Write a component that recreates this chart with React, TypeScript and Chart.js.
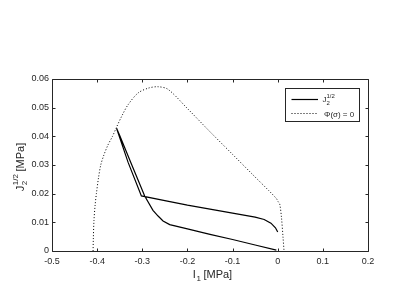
import React, { useEffect, useRef } from "react";
import { Chart, registerables } from "chart.js";

Chart.register(...registerables);

// Yield surface Φ(σ) = 0 (dotted)
const phiI = [-0.409, -0.4085, -0.407, -0.4045, -0.4016, -0.397, -0.392, -0.385, -0.376, -0.366, -0.357, -0.345, -0.3316, -0.3095, -0.287, -0.2652, -0.243, -0.2, -0.15, -0.1, -0.05, -0.02, -0.003, 0.001, 0.0044, 0.0082, 0.0117, 0.014];
const phiJ = [0, 0.004, 0.0107, 0.016, 0.0201, 0.0255, 0.03, 0.0335, 0.037, 0.04, 0.0432, 0.0472, 0.051, 0.0551, 0.0568, 0.0573, 0.0564, 0.0497, 0.0416, 0.0337, 0.0258, 0.0211, 0.0183, 0.0172, 0.0164, 0.0119, 0.0049, 0];

// Stress path J2^(1/2) (solid)
const pathI = [-0.003, -0.05, -0.1, -0.15, -0.2, -0.2393, -0.254, -0.265, -0.2763, -0.2947, -0.3264, -0.35, -0.357, -0.3316, -0.302, -0.25, -0.2, -0.15, -0.1, -0.05, -0.03, -0.015, -0.005, 0];
const pathJ = [0.0003, 0.0021, 0.004, 0.0058, 0.0077, 0.0092, 0.0105, 0.0122, 0.0142, 0.0192, 0.0312, 0.0403, 0.0428, 0.031, 0.0192, 0.0176, 0.016, 0.0146, 0.0132, 0.0118, 0.011, 0.0097, 0.0081, 0.0066];

const xTicks = [-0.5, -0.4, -0.3, -0.2, -0.1, 0, 0.1, 0.2];
const yTicks = [0, 0.01, 0.02, 0.03, 0.04, 0.05, 0.06];

const AXIS = "#262626";
const FONT = "'Liberation Sans', Arial, sans-serif";

const fmt = (v: number) => String(Number(v.toFixed(3)));

const decor = {
  id: "decor",
  afterDraw(chart: any) {
    const ctx = chart.ctx as CanvasRenderingContext2D;
    const { left, right, top, bottom } = chart.chartArea;
    const xs = chart.scales.x;
    const ys = chart.scales.y;
    ctx.save();
    ctx.strokeStyle = AXIS;
    ctx.lineWidth = 1;
    const L = Math.round(left) + 0.5;
    const R = Math.round(right) + 0.5;
    const T = Math.round(top) + 0.5;
    const B = Math.round(bottom) + 0.5;
    ctx.beginPath();
    ctx.rect(L, T, R - L, B - T);
    const tl = 3;
    xTicks.forEach((v) => {
      const p = Math.round(xs.getPixelForValue(v)) + 0.5;
      ctx.moveTo(p, B);
      ctx.lineTo(p, B - tl);
      ctx.moveTo(p, T);
      ctx.lineTo(p, T + tl);
    });
    yTicks.forEach((v) => {
      const p = Math.round(ys.getPixelForValue(v)) + 0.5;
      ctx.moveTo(L, p);
      ctx.lineTo(L + tl, p);
      ctx.moveTo(R, p);
      ctx.lineTo(R - tl, p);
    });
    ctx.stroke();

    // x title: I1 [MPa]
    ctx.fillStyle = AXIS;
    ctx.textBaseline = "alphabetic";
    ctx.textAlign = "left";
    const cx = 212.5;
    const by = 278;
    ctx.font = `11px ${FONT}`;
    const wI = ctx.measureText("I").width;
    ctx.font = `8px ${FONT}`;
    const w1 = ctx.measureText("1").width;
    ctx.font = `11px ${FONT}`;
    const wRest = ctx.measureText(" [MPa]").width;
    const x0 = cx - (wI + w1 + wRest) / 2;
    ctx.fillText("I", x0, by);
    ctx.font = `8px ${FONT}`;
    ctx.fillText("1", x0 + wI + 0.5, by + 3);
    ctx.font = `11px ${FONT}`;
    ctx.fillText(" [MPa]", x0 + wI + w1, by);

    // y title: J2^(1/2) [MPa], rotated
    ctx.save();
    const cy = 167;
    ctx.translate(24, cy);
    ctx.rotate(-Math.PI / 2);
    ctx.font = `11px ${FONT}`;
    const wJ = ctx.measureText("J").width;
    ctx.font = `8px ${FONT}`;
    const wSup = ctx.measureText("1/2").width;
    ctx.font = `11px ${FONT}`;
    const wM = ctx.measureText(" [MPa]").width;
    const tot = wJ + wSup + wM;
    const xx = -tot / 2;
    ctx.fillText("J", xx, 0);
    ctx.font = `8px ${FONT}`;
    ctx.fillText("1/2", xx + wJ + 0.5, -6);
    ctx.fillText("2", xx + wJ + 0.5, 3);
    ctx.font = `11px ${FONT}`;
    ctx.fillText(" [MPa]", xx + wJ + wSup, 0);
    ctx.restore();

    // legend
    const lx = 285.5, ly = 88.5, lw = 74, lh = 33;
    ctx.fillStyle = "#ffffff";
    ctx.fillRect(lx, ly, lw, lh);
    ctx.strokeStyle = AXIS;
    ctx.lineWidth = 1;
    ctx.strokeRect(lx, ly, lw, lh);
    ctx.strokeStyle = "#000";
    ctx.lineWidth = 1.2;
    ctx.beginPath();
    ctx.moveTo(291.5, 99.5);
    ctx.lineTo(318, 99.5);
    ctx.stroke();
    ctx.lineWidth = 1;
    ctx.setLineDash([1, 2]);
    ctx.beginPath();
    ctx.moveTo(291.5, 113.5);
    ctx.lineTo(318, 113.5);
    ctx.stroke();
    ctx.setLineDash([]);
    ctx.fillStyle = AXIS;
    ctx.font = `8px ${FONT}`;
    ctx.fillText("J", 322.5, 102);
    const wj = ctx.measureText("J").width;
    ctx.font = `6px ${FONT}`;
    ctx.fillText("1/2", 322.5 + wj, 98);
    ctx.fillText("2", 322.5 + wj, 104.5);
    ctx.font = `8px ${FONT}`;
    ctx.fillText("Φ(σ) = 0", 324, 116.5);
    ctx.restore();
  },
};

export default function App() {
  const ref = useRef<HTMLCanvasElement | null>(null);
  useEffect(() => {
    if (!ref.current) return;
    const chart = new Chart(ref.current, {
      type: "scatter",
      data: {
        datasets: [
          {
            label: "J2^1/2",
            data: pathI.map((x, i) => ({ x, y: pathJ[i] })),
            showLine: true,
            borderColor: "#000",
            borderWidth: 1.2,
            pointRadius: 0,
            fill: false,
          },
          {
            label: "Φ(σ) = 0",
            data: phiI.map((x, i) => ({ x, y: phiJ[i] })),
            showLine: true,
            borderColor: "#000",
            borderWidth: 1,
            borderDash: [1, 2],
            pointRadius: 0,
            tension: 0.3,
            fill: false,
          },
        ],
      },
      options: {
        animation: false,
        responsive: true,
        maintainAspectRatio: false,
        layout: { padding: { left: 0, top: 79, right: 39, bottom: 0 } },
        plugins: { legend: { display: false }, tooltip: { enabled: false } },
        scales: {
          x: {
            type: "linear",
            min: -0.5,
            max: 0.2,
            afterBuildTicks: (s: any) => {
              s.ticks = xTicks.map((v) => ({ value: v }));
            },
            afterFit: (s: any) => {
              s.height = 37;
            },
            grid: { display: false, drawTicks: false },
            border: { display: false },
            ticks: {
              color: AXIS,
              font: { family: FONT, size: 9 },
              padding: 5,
              maxRotation: 0,
              callback: (v: any) => fmt(Number(v)),
            },
          },
          y: {
            type: "linear",
            min: 0,
            max: 0.06,
            afterBuildTicks: (s: any) => {
              s.ticks = yTicks.map((v) => ({ value: v }));
            },
            afterFit: (s: any) => {
              s.width = 52;
            },
            grid: { display: false, drawTicks: false },
            border: { display: false },
            ticks: {
              color: AXIS,
              font: { family: FONT, size: 9 },
              padding: 3,
              callback: (v: any) => fmt(Number(v)),
            },
          },
        },
      },
      plugins: [decor],
    });
    return () => chart.destroy();
  }, []);
  return (
    <div style={{ position: "absolute", left: 0, top: 0, width: 407, height: 288, background: "#fff" }}>
      <canvas ref={ref} />
    </div>
  );
}
